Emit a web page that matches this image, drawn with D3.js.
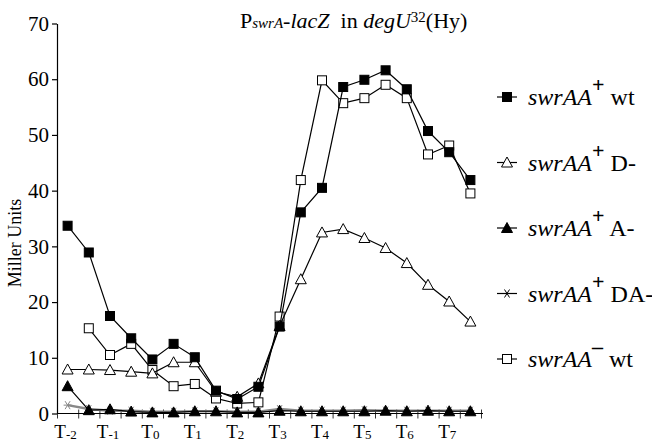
<!DOCTYPE html>
<html>
<head>
<meta charset="utf-8">
<script src="https://d3js.org/d3.v7.min.js"></script>
<style>
  body { margin: 0; background: #fff; }
  svg { display: block; }
  .axis path, .axis line { stroke: #000; stroke-width: 1.2; }
</style>
</head>
<body>
<svg id="chart" width="652" height="442"></svg>
<script>
// time points (half-hour steps from T-2 to T7.5)
const times = ["T-2","T-1.5","T-1","T-0.5","T0","T0.5","T1","T1.5","T2","T2.5",
               "T3","T3.5","T4","T4.5","T5","T5.5","T6","T6.5","T7","T7.5"];
const tickLabels = [["T","-2"],["T","-1"],["T","0"],["T","1"],["T","2"],
                    ["T","3"],["T","4"],["T","5"],["T","6"],["T","7"]];
const yTicks = [0,10,20,30,40,50,60,70];

// Miller units
const wtPlus = [33.7,28.9,17.5,13.5,9.7,12.5,10.1,4.1,2.6,4.8,
                15.6,36.1,40.5,58.6,59.9,61.6,58.2,50.7,46.9,41.9];
const dMinus = [7.9,7.9,7.8,7.5,7.2,9.2,9.2,3.9,3.0,5.4,
                15.7,24.1,32.5,33.1,31.5,29.7,27.0,23.1,20.1,16.5];
const aMinus = [4.9,0.6,0.75,0.35,0.2,0.2,0.4,0.4,0.2,0.2,
                0.5,0.4,0.4,0.4,0.4,0.5,0.4,0.5,0.4,0.4];
const daMinus = [1.5,0.8,0.5,0.5,0.3,0.3,0.4,0.4,0.3,0.3,
                 0.8,0.5,0.5,0.5,0.6,0.5,0.5,0.5,0.5,0.5];
const wtMinus = [null,15.3,10.5,12.5,7.8,4.9,5.3,2.7,1.8,2.0,
                 17.4,41.9,59.8,55.7,56.6,59.0,56.6,46.5,48.1,39.5];

const series = [
  {values: wtPlus, sym: "square", fill: "#000", color: "#000", sup: "+", tail: " wt"},
  {values: dMinus, sym: "triangle", fill: "#fff", color: "#000", sup: "+", tail: " D-"},
  {values: aMinus, sym: "triangle", fill: "#000", color: "#000", sup: "+", tail: " A-"},
  {values: daMinus, sym: "star", fill: "none", color: "#888", sup: "+", tail: " DA-"},
  {values: wtMinus, sym: "square", fill: "#fff", color: "#000", sup: "\u2013", tail: " wt"}
];

const FONT = "Liberation Serif";
const svg = d3.select("#chart").attr("font-family", FONT);
const plotLeft = 57, plotRight = 481, plotTop = 23.5, plotBottom = 413.5;

const x = d3.scaleBand().domain(times).range([plotLeft, plotRight]).paddingInner(0).paddingOuter(0);
const xi = d3.scaleLinear().domain([0, times.length]).range([plotLeft, plotRight]);
const y = d3.scaleLinear().domain([0, 70]).range([plotBottom, plotTop]);

// y axis
const yAxis = svg.append("g").attr("class", "axis")
  .attr("transform", `translate(${plotLeft},0)`)
  .call(d3.axisLeft(y).tickValues(yTicks).tickSize(5).tickSizeOuter(0).tickPadding(3));
yAxis.attr("font-family", FONT).attr("font-size", 21);
yAxis.selectAll("text").attr("font-family", FONT).attr("font-size", 21).attr("fill", "#000");

// x axis (ticks between time points, crossing the axis)
const xAxis = svg.append("g").attr("class", "axis")
  .attr("transform", `translate(0,${plotBottom})`)
  .call(d3.axisBottom(xi).tickValues(d3.range(0, times.length + 1)).tickSize(5).tickSizeOuter(0).tickFormat(""));
xAxis.selectAll(".tick line").attr("y1", -4).style("stroke-width", 0.8);
xAxis.select(".domain").attr("d", `M${plotLeft},0H${plotRight + 2}`);

// x labels
const xl = svg.append("g").selectAll("text").data(tickLabels).join("text")
  .attr("x", (d, i) => x(times[i * 2]) + x.bandwidth() / 2 - 2)
  .attr("y", 438)
  .attr("text-anchor", "middle")
  .attr("font-family", FONT)
  .attr("font-size", 19);
xl.append("tspan").text(d => d[0]);
xl.append("tspan").attr("font-size", 13).attr("dy", 1).text(d => d[1]);

// y label
svg.append("text")
  .attr("transform", "translate(21,243) rotate(-90)")
  .attr("text-anchor", "middle")
  .attr("font-family", FONT)
  .attr("font-size", 18)
  .text("Miller Units");

// title
const title = svg.append("text").attr("x", 240).attr("y", 28)
  .attr("font-family", FONT).attr("font-size", 22);
title.append("tspan").text("P");
title.append("tspan").attr("font-style", "italic").attr("font-size", 15).text("swrA");
title.append("tspan").attr("font-style", "italic").text("-lacZ");
title.append("tspan").text("\u00a0 in ");
title.append("tspan").attr("font-style", "italic").text("degU");
title.append("tspan").attr("font-size", 15).attr("dy", -6).text("32");
title.append("tspan").attr("dy", 6).text("(Hy)");

// marker drawing
function marker(g, sym, fill, color) {
  if (sym === "square") {
    g.append("rect").attr("x", -4.5).attr("y", -4.5).attr("width", 9).attr("height", 9)
      .attr("fill", fill).attr("stroke", "#000").attr("stroke-width", 1);
  } else if (sym === "triangle") {
    g.append("path").attr("d", "M0,-5.5L5.5,4.5L-5.5,4.5Z")
      .attr("fill", fill).attr("stroke", "#000").attr("stroke-width", 1);
  } else {
    g.append("path").attr("d", "M-4,0H4M-2.5,-4L2.5,4M2.5,-4L-2.5,4")
      .attr("fill", "none").attr("stroke", color).attr("stroke-width", 1);
  }
}

const line = d3.line()
  .defined(d => d != null)
  .x((d, i) => x(times[i]) + x.bandwidth() / 2)
  .y(d => y(d));

// draw series: DA- first (grey, behind), then others
const order = [3, 4, 1, 0, 2];
order.forEach(k => {
  const s = series[k];
  svg.append("path").datum(s.values)
    .attr("d", line)
    .attr("fill", "none")
    .attr("stroke", s.color)
    .attr("stroke-width", k === 3 ? 2.5 : 1.2);
  s.values.forEach((v, i) => {
    if (v == null) return;
    const g = svg.append("g").attr("transform", `translate(${x(times[i]) + x.bandwidth() / 2},${y(v)})`);
    marker(g, s.sym, s.fill, s.color);
  });
});

// legend
const leg = svg.append("g");
series.forEach((s, i) => {
  const cy = 97 + i * 65.5;
  const g = leg.append("g").attr("transform", `translate(0,${cy})`);
  g.append("line").attr("x1", 497).attr("x2", 517).attr("y1", 0).attr("y2", 0)
    .attr("stroke", "#000").attr("stroke-width", 1.2);
  const mg = g.append("g").attr("transform", "translate(507,0)");
  marker(mg, s.sym, s.fill, "#000");
  const t = g.append("text").attr("x", 528).attr("y", 8)
    .attr("font-family", FONT).attr("font-size", 24);
  t.append("tspan").attr("font-style", "italic").text("swrAA");
  t.append("tspan").attr("dy", -13).attr("font-size", 22)
    .attr("font-weight", "bold").text(s.sup);
  t.append("tspan").attr("dy", 13).text(s.tail);
});
</script>
</body>
</html>
